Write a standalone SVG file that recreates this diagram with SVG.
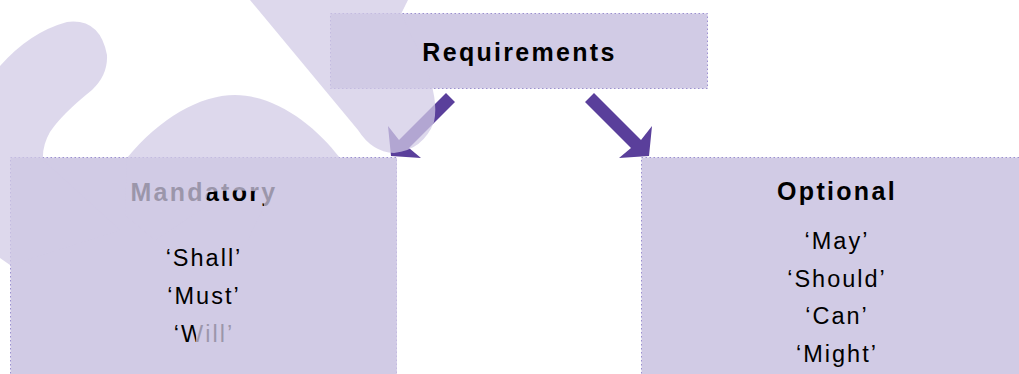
<svg xmlns="http://www.w3.org/2000/svg" width="1019" height="374" viewBox="0 0 1019 374">
<style>
.box{fill:#D1CBE5;stroke:#9B8FD0;stroke-width:1;stroke-dasharray:1.5 2.5}
.h{font-family:"Liberation Sans",Arial,sans-serif;font-weight:bold;font-size:25px;letter-spacing:2.3px;fill:#000;text-anchor:middle}
.t{font-family:"Liberation Sans",Arial,sans-serif;font-size:23.5px;letter-spacing:2px;fill:#000;text-anchor:middle}
.arr{fill:#5A3F9B}
.wm{fill:#D1CBE5;fill-opacity:0.74}
</style>
<rect width="1019" height="374" fill="#fff"/>
<g id="requirements">
<rect class="box" x="330.5" y="13.5" width="377" height="75"/>
<text class="h" x="519.5" y="61">Requirements</text>
</g>
<g id="mandatory">
<rect class="box" x="10.5" y="157.5" width="386" height="230"/>
<text class="h" x="204" y="201">Mandatory</text>
<text class="t" x="204" y="266">‘Shall’</text>
<text class="t" x="204" y="304">‘Must’</text>
<text class="t" x="204" y="342">‘Will’</text>
</g>
<g id="optional">
<rect class="box" x="641.5" y="157.5" width="400" height="230"/>
<text class="h" x="837" y="200">Optional</text>
<text class="t" x="837" y="249">‘May’</text>
<text class="t" x="837" y="287">‘Should’</text>
<text class="t" x="837" y="324">‘Can’</text>
<text class="t" x="837" y="362">‘Might’</text>
</g>
<g id="connectors">
<path class="arr" d="M446,93 L399,140 L388,126 L391,156 L421,158 L409,148 L455,102 Z"/>
<path class="arr" d="M594,93 L641,140 L652,126 L649,156 L619,158 L631,148 L585,102 Z"/>
</g>
<path class="wm" d="M250,0 L408,0 L401,14 L418,50 Q440,95 434,122 Q423,150 394,153 Q372,152 358,130 Z
M0,66 Q30,32 67,22 Q100,18 107,55 Q108,75 92,90 Q62,114 50,132 Q42,146 43,160 L120,230 L10,265 L0,258 Z
M127,158 C160,118 200,95 235,95 C275,95 315,125 340,158 L397,158 L397,374 L196,374 L196,320 L248,320 L248,240 L264,207 L263,192 Q235,189 208,192 L205,207 L155,240 L125,215 Z"/>
</svg>
